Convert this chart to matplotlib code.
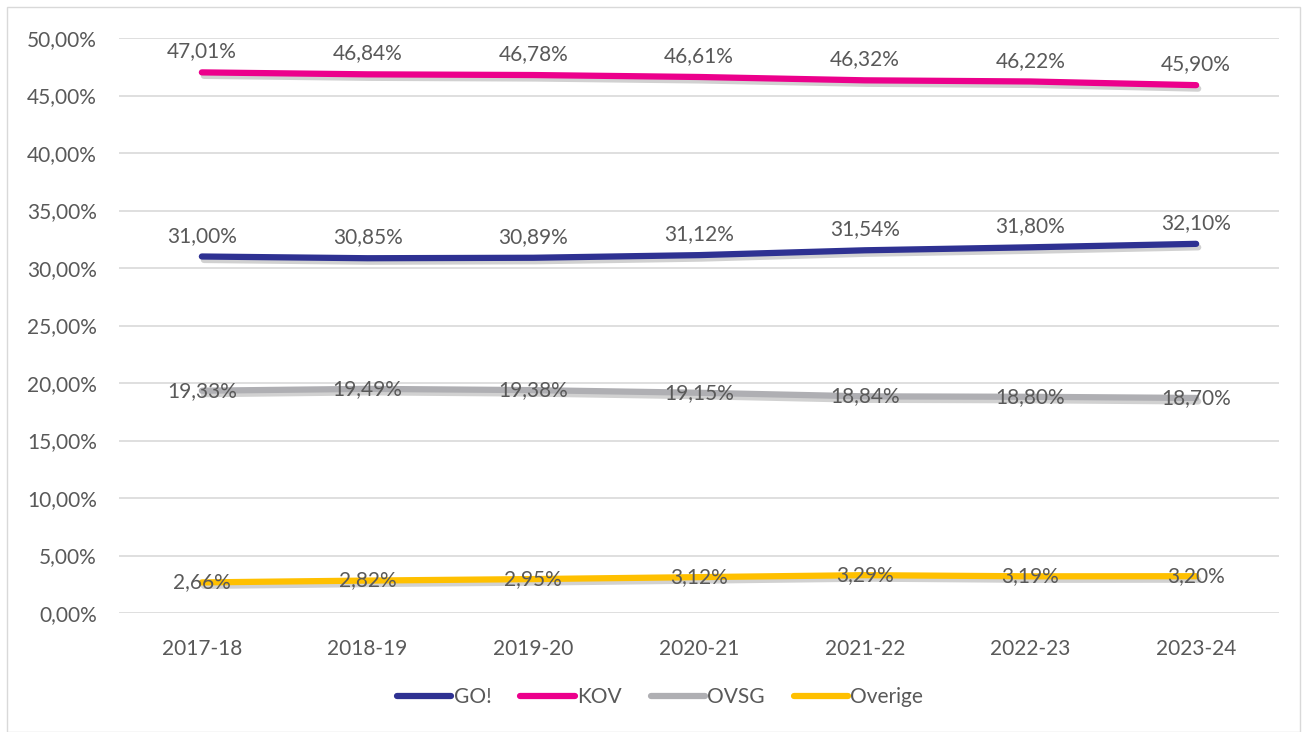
import matplotlib.pyplot as plt
import matplotlib.patheffects as pe
from matplotlib.patches import Rectangle
from matplotlib.ticker import FuncFormatter

plt.rcParams['font.family'] = ['Lato', 'DejaVu Sans']

years = ["2017-18", "2018-19", "2019-20", "2020-21", "2021-22", "2022-23", "2023-24"]
go = [31.00, 30.85, 30.89, 31.12, 31.54, 31.80, 32.10]
kov = [47.01, 46.84, 46.78, 46.61, 46.32, 46.22, 45.90]
ovsg = [19.33, 19.49, 19.38, 19.15, 18.84, 18.80, 18.70]
overige = [2.66, 2.82, 2.95, 3.12, 3.29, 3.19, 3.20]

series = [("GO!", go, "#2E3192", "above"),
          ("KOV", kov, "#EC008C", "above"),
          ("OVSG", ovsg, "#AFAFB3", "center"),
          ("Overige", overige, "#FFC000", "center")]

txt = "#595959"

fig = plt.figure(figsize=(13.05, 7.32), dpi=100)
fig.patches.append(Rectangle((7 / 1305, 0), 1293 / 1305, 1 - 7 / 732, transform=fig.transFigure,
                             fill=False, edgecolor="#D9D9D9", linewidth=1))
ax = fig.add_axes([119 / 1305, 1 - 613 / 732, 1160 / 1305, (613 - 38) / 732])

x = list(range(len(years)))
shadow = [pe.SimpleLineShadow(offset=(1.5, -2.5), shadow_color="black", alpha=0.18),
          pe.Normal()]
for name, vals, col, pos in series:
    ax.plot(x, vals, color=col, lw=4.5, solid_capstyle="round", label=name,
            path_effects=shadow, zorder=3)
    for xi, v in zip(x, vals):
        lab = f"{v:.2f}".replace(".", ",") + "%"
        dy = 15 if pos == "above" else 0
        ax.annotate(lab, (xi, v), xytext=(0, dy), textcoords="offset points",
                    ha="center", va="center", fontsize=15, color=txt, zorder=4)

ax.set_xlim(-0.5, 6.5)
ax.set_ylim(0, 50)
ax.set_yticks(range(0, 51, 5))
ax.yaxis.set_major_formatter(FuncFormatter(lambda v, p: f"{v:.2f}".replace(".", ",") + "%"))
ax.set_xticks(x)
ax.set_xticklabels(years)
ax.tick_params(axis="both", length=0, labelsize=15, colors=txt)
ax.tick_params(axis="x", pad=19)
ax.tick_params(axis="y", pad=16)
ax.grid(axis="y", color="#D9D9D9", lw=1.2)
ax.set_axisbelow(True)
for s in ax.spines.values():
    s.set_visible(False)

leg = fig.legend(loc="center", bbox_to_anchor=(660 / 1305, 1 - 697 / 732), ncol=4, frameon=False,
                 fontsize=15, handlelength=2.6, handletextpad=0.1, columnspacing=1.4)
for t in leg.get_texts():
    t.set_color(txt)
for h in leg.legend_handles:
    h.set_path_effects([])
    h.set_solid_capstyle("round")

fig.savefig("out.png", dpi=100)
